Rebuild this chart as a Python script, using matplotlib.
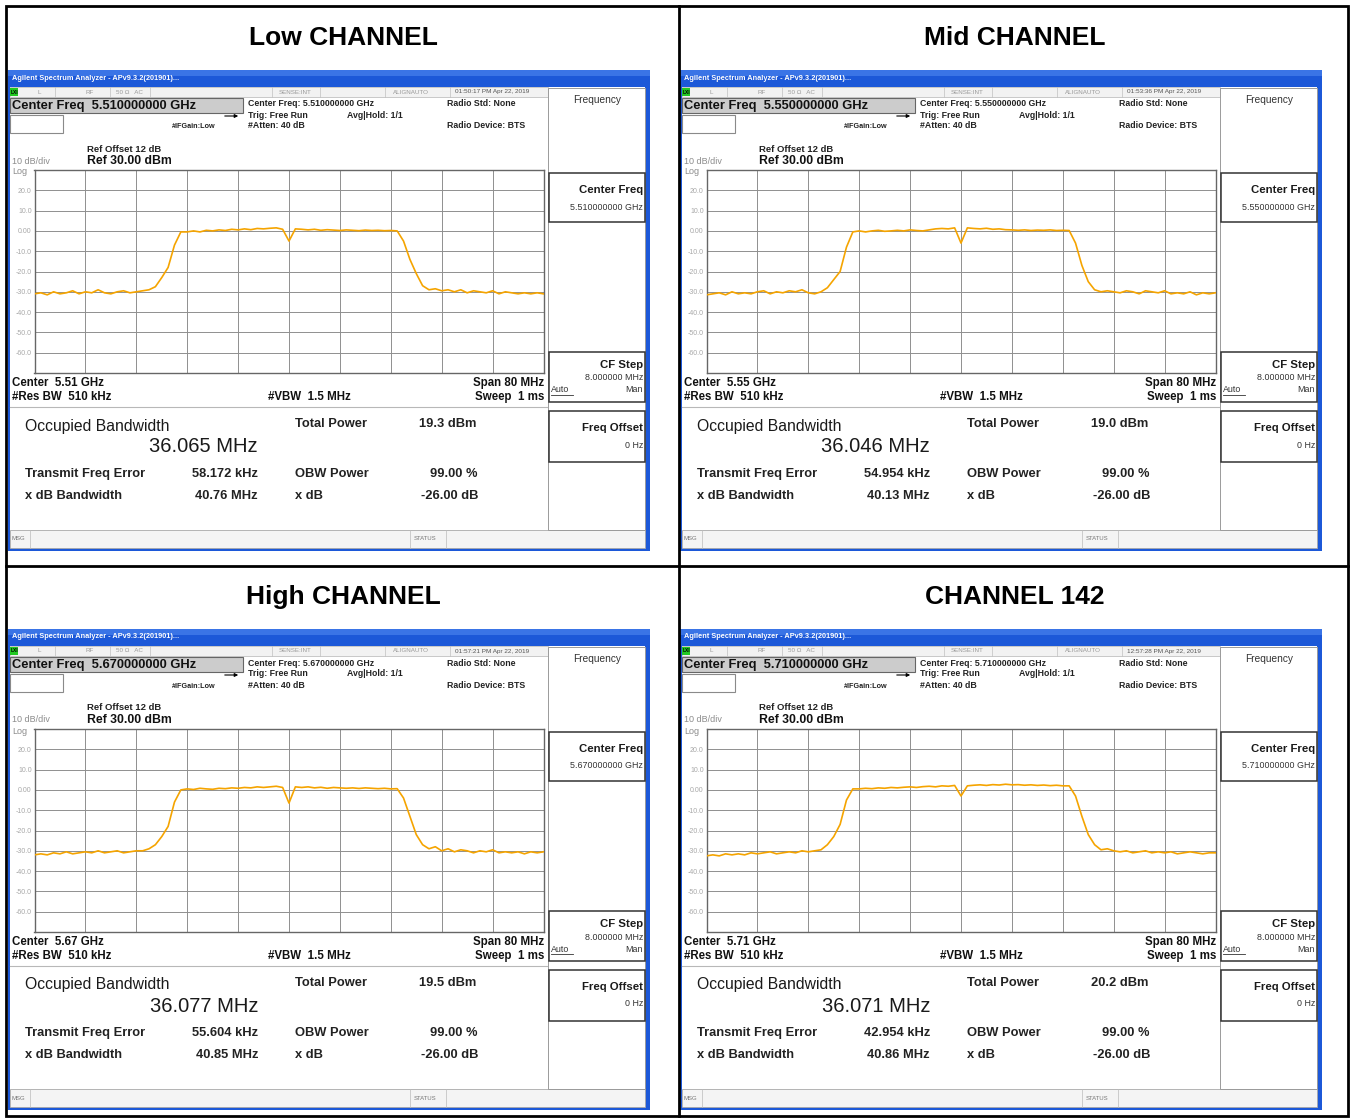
import matplotlib
matplotlib.use("Agg")
import matplotlib.pyplot as plt
from matplotlib.patches import Rectangle

plt.rcParams["font.family"] = ["Liberation Sans", "DejaVu Sans"]

W, H = 1354, 1120

# ---- values ----
panel_titles = ["Low CHANNEL", "Mid CHANNEL", "High CHANNEL", "CHANNEL 142"]
center_ghz = ["5.510000000", "5.550000000", "5.670000000", "5.710000000"]
center_short = ["5.51", "5.55", "5.67", "5.71"]
timestamps = ["01:50:17 PM Apr 22, 2019", "01:53:36 PM Apr 22, 2019",
              "01:57:21 PM Apr 22, 2019", "12:57:28 PM Apr 22, 2019"]
occupied_bw = ["36.065", "36.046", "36.077", "36.071"]
total_power = ["19.3", "19.0", "19.5", "20.2"]
freq_error = ["58.172", "54.954", "55.604", "42.954"]
xdb_bw = ["40.76", "40.13", "40.85", "40.86"]

# trace: offset from centre (MHz) and level (dBm)
offset_mhz = list(range(-40, 41))
trace_low = [-31, -30.5, -31.5, -30, -31, -30.5, -29.5, -31, -30, -30.5, -29, -30.5,
             -31, -30, -29.5, -30.5, -30, -29.5,
             -29, -27.5, -23, -18, -7, -0.5,
             -0.5, 0, -0.5, 0.3, 0, 0.5, 0.2, 0.8, 0.5, 1, 0.6, 1.2, 1, 1.3, 1.5, 0.8,
             -5,
             1, 0.8, 0.5, 0.8, 0.3, 0.6, 0.4, 0.2, 0.5, 0.3, 0.1, 0.4, 0.2, 0.3, 0.1, 0.2, 0,
             -5, -14, -21, -27, -29,
             -28.5, -29.5, -29, -30, -29, -30.5, -29.5, -30, -30.5, -29.5, -31, -30,
             -30.5, -31, -30.5, -31, -30.5, -31]
trace_mid = [-31.5, -31, -30.5, -31.5, -30, -31, -30.5, -31, -30, -29.5, -31, -30,
             -30.5, -29.5, -30, -29, -30.5, -31,
             -30, -28, -24, -20, -8, -0.5,
             0, -0.5, 0, 0.3, -0.2, 0, 0.3, 0, 0.5, 0.2, 0, 0.5, 1, 1.2, 1, 1.5,
             -6,
             1.5, 1.2, 1, 1.3, 0.8, 1, 0.6, 0.5, 0.3, 0.5, 0.2, 0.4, 0.3, 0.5, 0.2, 0.3, 0.2,
             -6, -17, -25, -29, -30,
             -29.5, -30, -30.5, -29.5, -30, -31, -29.5, -30, -30.5, -29.5, -31, -30.5,
             -31, -30, -31.5, -30.5, -31, -30.5]
trace_high = [-32, -31.5, -32, -31, -31.5, -30.5, -31.5, -31, -30.5, -31, -30, -31,
              -30.5, -30, -31, -30.5, -30, -30,
              -29, -27, -23, -18, -6, 0,
              0.5, 0.2, 0.8, 0.5, 0.3, 0.8, 0.6, 1, 0.8, 1.2, 1, 1.5, 1.2, 1.5, 1.8, 1.2,
              -6.5,
              1.5, 1.2, 1.5, 1, 1.3, 0.8, 1.2, 1, 0.8, 1, 0.7, 1, 0.8, 0.6, 0.8, 0.5, 0.6,
              -4, -13, -22, -27, -29,
              -28, -30, -29, -30.5, -29.5, -30, -31, -30, -30.5, -29.5, -31, -30.5,
              -31, -30.5, -31.5, -30.5, -31, -30.5]
trace_142 = [-32.5, -32, -32.5, -31.5, -32, -31.5, -32, -31, -31.5, -31, -30.5, -31.5,
             -31, -30.5, -31, -30, -30.5, -30,
             -29.5, -27, -23, -17, -5, 0.5,
             0.5, 0.8, 0.6, 1, 0.8, 1.2, 1, 1.3, 1.5, 1.2, 1.6, 1.8, 1.5, 2, 1.8, 2.2,
             -3,
             2, 2.3, 2.5, 2.2, 2.6, 2.4, 2.8, 2.5, 2.6, 2.3, 2.5, 2.2, 2.4, 2.1, 2.3, 2, 2,
             -3, -13, -22, -27, -29.5,
             -29, -30, -30.5, -30, -31, -30.5, -30, -31, -30.5, -31, -30.5, -31.5,
             -31, -30.5, -31, -31.5, -31, -31]
traces = [trace_low, trace_mid, trace_high, trace_142]

y_ticks = list(range(-70, 31, 10))
y_labels = ["", "-60.0", "-50.0", "-40.0", "-30.0", "-20.0", "-10.0", "0.00", "10.0", "20.0", ""]

fig = plt.figure(figsize=(W / 100, H / 100), dpi=100)
bg = fig.add_axes([0, 0, 1, 1])
bg.set_xlim(0, W)
bg.set_ylim(H, 0)
bg.axis("off")


def rect(x, y, w, h, fc="none", ec="none", lw=0.8, z=1):
    bg.add_patch(Rectangle((x, y), w, h, facecolor=fc, edgecolor=ec, linewidth=lw, zorder=z))


def txt(x, y, s, size, weight="normal", color="black", ha="left", **kw):
    bg.text(x, y, s, fontsize=size, fontweight=weight, color=color, ha=ha, va="center",
            zorder=5, **kw)


def hline(x0, x1, y, color="#999999", lw=0.8):
    bg.plot([x0, x1], [y, y], color=color, lw=lw, zorder=3)


def vline(x, y0, y1, color="#999999", lw=0.8):
    bg.plot([x, x], [y0, y1], color=color, lw=lw, zorder=3)


def draw_panel(k, ox, oy):
    X = lambda v: ox + v
    Y = lambda v: oy + v

    txt(X(343), Y(38), panel_titles[k], 19, "bold", ha="center")

    # window frame + title bar
    rect(X(8), Y(70), 642, 481, fc="#1c58d8")
    rect(X(8), Y(70), 642, 6, fc="#3a74e6")
    txt(X(12), Y(78), "Agilent Spectrum Analyzer - APv9.3.2(201901)...", 5.3, "bold", "white")
    rect(X(10), Y(87), 635, 461, fc="white")

    # status strip
    rect(X(10), Y(87), 538, 10, fc="#f2f2f2", ec="#b5b5b5", lw=0.5)
    rect(X(10), Y(88), 8, 8, fc="#22c922")
    txt(X(11), Y(92), "LXI", 3.5, "bold")
    for sx in [55, 110, 150, 272, 320, 385, 450]:
        vline(X(sx), Y(87), Y(97), "#c0c0c0", 0.5)
    grey = "#9a9a9a"
    txt(X(37), Y(92), "L", 4.5, color=grey)
    txt(X(86), Y(92), "RF", 4.5, color=grey)
    txt(X(116), Y(92), "50 \u03a9   AC", 4.5, color=grey)
    txt(X(279), Y(92), "SENSE:INT", 4.5, color=grey)
    txt(X(393), Y(92), "ALIGNAUTO", 4.5, color=grey)
    txt(X(455), Y(92), timestamps[k], 4.6, color="#555555")

    # header block
    rect(X(10), Y(98), 233, 15, fc="#cccccc", ec="#666666", lw=0.8)
    txt(X(12), Y(106), "Center Freq  %s GHz" % center_ghz[k], 9.3, "bold", "#111111")
    rect(X(10), Y(115), 53, 18, fc="white", ec="#8a8a8a", lw=0.8)
    bg.annotate("", xy=(X(241), Y(116)), xytext=(X(222), Y(116)),
                arrowprops=dict(arrowstyle="-|>", lw=0.8, color="black", mutation_scale=5),
                zorder=5)
    txt(X(172), Y(127), "#IFGain:Low", 5.2, "bold", "#222222")
    txt(X(248), Y(104), "Center Freq: %s GHz" % center_ghz[k], 6.3, "bold", "#222222")
    txt(X(248), Y(115), "Trig: Free Run", 6.3, "bold", "#222222")
    txt(X(248), Y(126), "#Atten: 40 dB", 6.3, "bold", "#222222")
    txt(X(347), Y(115), "Avg|Hold: 1/1", 6.3, "bold", "#222222")
    txt(X(447), Y(104), "Radio Std: None", 6.3, "bold", "#222222")
    txt(X(447), Y(126), "Radio Device: BTS", 6.3, "bold", "#222222")

    txt(X(87), Y(149), "Ref Offset 12 dB", 6.8, "bold", "#222222")
    txt(X(87), Y(161), "Ref 30.00 dBm", 8.8, "bold", "#111111")
    txt(X(12), Y(161), "10 dB/div", 6.5, color="#8c8c8c")
    txt(X(12), Y(172), "Log", 6.5, color="#8c8c8c")

    # trace plot
    ax = fig.add_axes([X(34.5) / W, 1 - Y(373) / H, 509 / W, 203 / H])
    ax.plot(offset_mhz, traces[k], color="#f5a400", lw=1.2, zorder=3)
    ax.set_xlim(-40, 40)
    ax.set_ylim(-70, 30)
    ax.set_xticks(range(-40, 41, 8))
    ax.set_xticklabels([])
    ax.set_yticks(y_ticks)
    ax.set_yticklabels(y_labels, fontsize=5, color="#a8a8a8")
    ax.tick_params(length=0, pad=2)
    ax.grid(True, color="#8f8f8f", lw=0.7)
    for sp in ax.spines.values():
        sp.set_color("#666666")
        sp.set_linewidth(1.0)

    txt(X(12), Y(383), "Center  %s GHz" % center_short[k], 8.3, "bold", "#111111")
    txt(X(12), Y(397), "#Res BW  510 kHz", 8.3, "bold", "#111111")
    txt(X(268), Y(397), "#VBW  1.5 MHz", 8.3, "bold", "#111111")
    txt(X(544), Y(383), "Span 80 MHz", 8.3, "bold", "#111111", ha="right")
    txt(X(544), Y(397), "Sweep  1 ms", 8.3, "bold", "#111111", ha="right")
    hline(X(10), X(547), Y(407), "#b8b8b8", 0.8)

    # measurement summary
    txt(X(25), Y(426), "Occupied Bandwidth", 11.3, color="#1a1a1a")
    txt(X(258), Y(447), "%s MHz" % occupied_bw[k], 14.5, color="#1a1a1a", ha="right")
    txt(X(295), Y(424), "Total Power", 9.3, "bold", "#222222")
    txt(X(419), Y(424), "%s dBm" % total_power[k], 9.3, "bold", "#222222")
    txt(X(25), Y(474), "Transmit Freq Error", 9.3, "bold", "#222222")
    txt(X(258), Y(474), "%s kHz" % freq_error[k], 9.3, "bold", "#222222", ha="right")
    txt(X(295), Y(474), "OBW Power", 9.3, "bold", "#222222")
    txt(X(478), Y(474), "99.00 %", 9.3, "bold", "#222222", ha="right")
    txt(X(25), Y(496), "x dB Bandwidth", 9.3, "bold", "#222222")
    txt(X(258), Y(496), "%s MHz" % xdb_bw[k], 9.3, "bold", "#222222", ha="right")
    txt(X(295), Y(496), "x dB", 9.3, "bold", "#222222")
    txt(X(478), Y(496), "-26.00 dB", 9.3, "bold", "#222222", ha="right")

    # message bar
    rect(X(10), Y(530), 635, 18, fc="#f4f4f4", ec="#a8a8a8", lw=0.6)
    vline(X(30), Y(530), Y(548), "#bbbbbb", 0.5)
    vline(X(410), Y(530), Y(548), "#bbbbbb", 0.5)
    vline(X(446), Y(530), Y(548), "#bbbbbb", 0.5)
    txt(X(11), Y(539), "MSG", 4.3, color="#777777")
    txt(X(414), Y(539), "STATUS", 4.3, color="#777777")

    # soft keys
    rect(X(548), Y(88), 97, 442, fc="white", ec="#9a9a9a", lw=0.7)
    txt(X(597), Y(100), "Frequency", 7.3, color="#333333", ha="center")
    rect(X(549), Y(173), 96, 49, ec="#333333", lw=1.1)
    txt(X(643), Y(190), "Center Freq", 8.2, "bold", "#1a1a1a", ha="right")
    txt(X(643), Y(207), "%s GHz" % center_ghz[k], 6.4, color="#333333", ha="right")
    rect(X(549), Y(352), 96, 50, ec="#333333", lw=1.1)
    txt(X(643), Y(365), "CF Step", 8.2, "bold", "#1a1a1a", ha="right")
    txt(X(643), Y(378), "8.000000 MHz", 6.4, color="#333333", ha="right")
    txt(X(551), Y(390), "Auto", 6.4, color="#333333")
    hline(X(551), X(573), Y(395), "#333333", 0.6)
    txt(X(643), Y(390), "Man", 6.4, color="#333333", ha="right")
    rect(X(549), Y(411), 96, 51, ec="#333333", lw=1.1)
    txt(X(643), Y(428), "Freq Offset", 8.2, "bold", "#1a1a1a", ha="right")
    txt(X(643), Y(445), "0 Hz", 6.4, color="#333333", ha="right")


offsets = [(0, 0), (672, 0), (0, 559), (672, 559)]
for k, (ox, oy) in enumerate(offsets):
    draw_panel(k, ox, oy)

# table grid
rect(6, 6, 1342, 1110, ec="black", lw=2.0, z=6)
vline(679, 6, 1116, "black", 2.0)
hline(6, 1348, 566, "black", 2.0)

fig.savefig("out.png", dpi=100, facecolor="white")
